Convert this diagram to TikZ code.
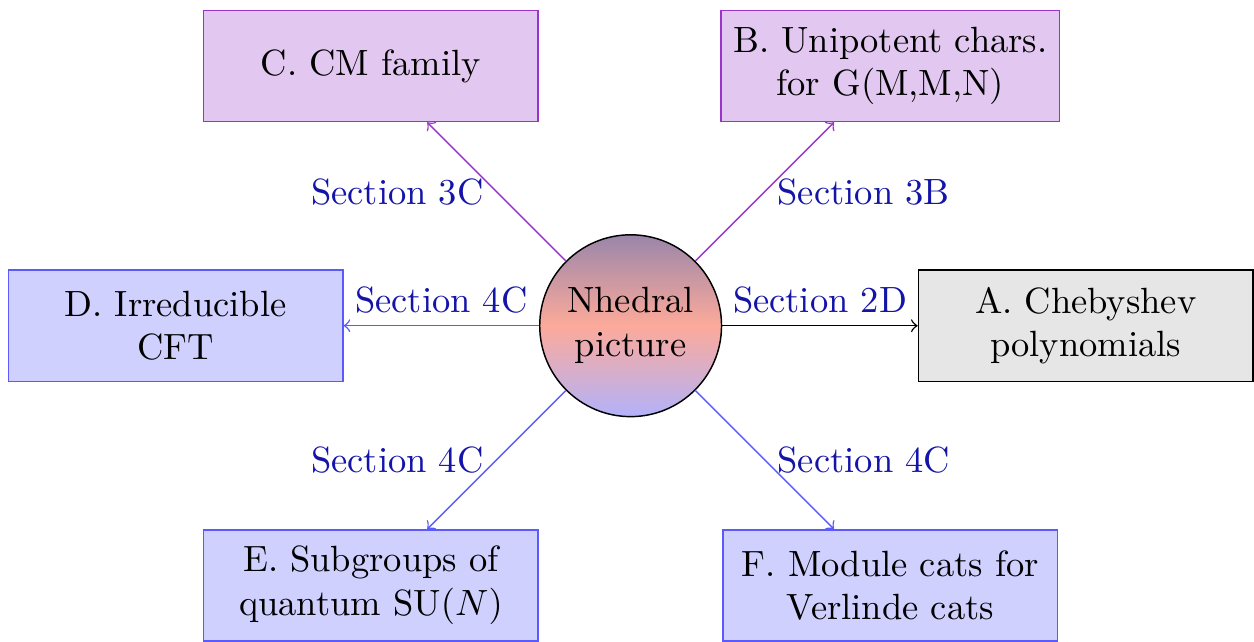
\documentclass[tikz,border=0pt]{standalone}
\usepackage{xcolor}
\usetikzlibrary{positioning}
\usetikzlibrary{arrows}
\usetikzlibrary{math}

\definecolor{purpfill}{HTML}{E2C8F0}
\definecolor{purpline}{HTML}{9933CC}
\definecolor{bluefill}{HTML}{D0D0FF}
\definecolor{blueline}{HTML}{5A5AFF}
\definecolor{labblue}{HTML}{1414A8}
\definecolor{grayfill}{HTML}{E6E6E6}
\definecolor{shadetop}{HTML}{9A86AA}
\definecolor{shademid}{HTML}{FCAA9A}
\definecolor{shadebot}{HTML}{B2B2FA}

\begin{document}
\begin{tikzpicture}[
    topic/.style={rectangle, draw, align=center, minimum width=3.22cm,
      minimum height=1.07cm},
    purptopic/.style={topic, draw=purpline, fill=purpfill},
    bluetopic/.style={topic, draw=blueline, fill=bluefill},
    graytopic/.style={topic, draw=black, fill=grayfill},
    sect/.style={text=labblue, midway}
  ]

  \tikzmath{
    \dx = 2.5;  % offset of the diagonal boxes
    \hx = 4.38; % offset of the side boxes
  }

  \useasboundingbox (-6.07,-3.04) rectangle (6.0,3.135);

  % centre
  \node[circle, draw, minimum size=1.75cm, align=center, inner sep=0pt,
    top color=shadetop, bottom color=shadebot,
    middle color=shademid] (N) at (0,0) {Nhedral\\picture};

  % topics
  \node[graytopic]  (A) at ( \hx, 0)   {A. Chebyshev\\polynomials};
  \node[purptopic]  (B) at ( \dx, \dx) {B. Unipotent chars.\\for G(M,M,N)};
  \node[purptopic]  (C) at (-\dx, \dx) {C. CM family};
  \node[bluetopic]  (D) at (-\hx, 0)   {D. Irreducible\\CFT};
  \node[bluetopic]  (E) at (-\dx,-\dx) {E. Subgroups of\\quantum SU$(N)$};
  \node[bluetopic]  (F) at ( \dx,-\dx) {F. Module cats for\\Verlinde cats};

  % connections
  \draw[->]               (N) -- (A) node[sect, above] {Section 2D};
  \draw[->, draw=purpline] (N) -- (B) node[sect, right] {Section 3B};
  \draw[->, draw=purpline] (N) -- (C) node[sect, left]  {Section 3C};
  \draw[->, draw=blueline] (N) -- (D) node[sect, above] {Section 4C};
  \draw[->, draw=blueline] (N) -- (E) node[sect, left]  {Section 4C};
  \draw[->, draw=blueline] (N) -- (F) node[sect, right] {Section 4C};

\end{tikzpicture}
\end{document}
